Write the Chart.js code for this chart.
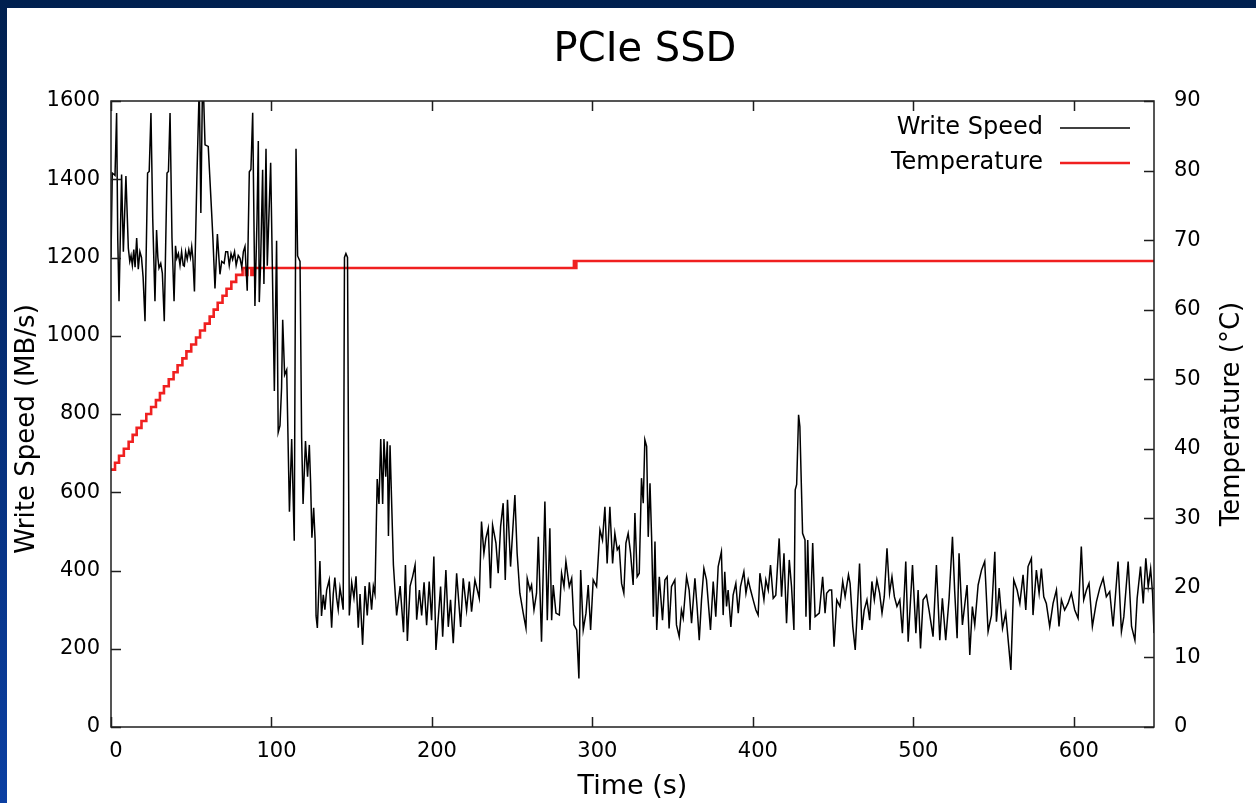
<!DOCTYPE html>
<html><head><meta charset="utf-8">
<script src="https://cdn.jsdelivr.net/npm/chart.js@4/dist/chart.umd.min.js"></script>
<style>
html,body{margin:0;padding:0;width:1256px;height:803px;overflow:hidden;background:linear-gradient(to bottom,#00204f 0%,#062f78 50%,#0b3fa2 100%);}
#wrap{position:absolute;left:7px;top:8px;width:1249px;height:795px;background:#fff;}
</style></head><body><div id="wrap"><canvas id="c" width="1249" height="795"></canvas></div>
<script>
const chartTitle = 'PCIe SSD';
const seconds = [
0,0.8,2.5,3.5,4.2,5.0,6.6,7.7,9.3,10.8,11.7,12.5,13.3,14.2,15.0,16.0,17.0,18.0,19.0,20.0,
21.2,22.8,23.8,24.9,26.0,27.4,28.4,29.2,29.9,31.0,32.0,33.2,34.9,35.8,36.8,38.0,39.3,40.2,41.0,42.0,
43.0,44.0,45.0,45.7,46.5,47.5,48.5,49.5,50.3,51.0,52.0,53.5,55.0,56.0,57.0,57.8,58.6,60.6,62.7,63.5,
64.8,66.3,67.9,69.0,70.5,71.5,72.7,73.7,74.8,75.8,77.0,78.0,79.3,80.4,81.5,82.5,83.5,84.9,86.2,87.2,
88.3,89.7,91.0,91.8,92.4,93.2,94.5,95.3,96.6,97.4,99.5,101.8,103.2,104.2,105.3,106.3,107.0,108.2,109.5,111.2,
112.6,114.2,115.3,116.3,117.8,118.8,119.7,121.2,122.5,123.6,124.4,125.2,126.3,127.2,127.8,128.6,130.2,131.2,132.3,133.3,
134.4,136.0,137.5,138.5,139.5,140.6,141.6,142.7,143.7,144.7,145.5,146.4,147.4,148.5,150.0,151.4,152.7,154.1,155.2,156.8,
158.3,159.7,161.0,162.4,163.5,164.5,165.9,167.0,168.1,169.3,170.1,171.2,172.2,172.9,173.9,176.0,178.0,180.2,182.3,183.5,
184.7,186.4,188.0,189.5,190.5,192.2,193.6,195.1,196.7,198.3,199.8,201.2,202.5,205.4,206.7,208.7,210.2,211.6,213.3,215.4,
217.9,219.5,221.6,223.3,224.7,226.8,229.5,230.9,232.4,233.6,235.1,236.5,237.8,239.9,241.3,242.8,244.4,245.7,247.1,249.0,
251.7,253.1,254.8,256.9,258.6,259.4,261.1,262.1,263.6,265.2,266.3,268.3,270.4,271.9,273.5,274.6,275.6,277.3,279.4,280.8,
282.3,283.5,285.6,287.1,288.5,290.2,291.6,292.7,294.3,296.0,297.4,298.9,300.5,302.6,304.7,306.3,307.8,309.2,310.9,312.6,
314.0,315.5,316.7,318.2,319.6,320.9,322.3,323.8,325.4,326.5,327.9,329.2,330.6,331.7,332.7,333.8,334.8,335.9,336.9,338.0,
339.0,340.1,341.7,343.7,345.2,346.6,347.8,349.3,351.4,352.4,354.1,355.5,356.6,358.7,360.3,361.8,363.9,365.3,366.6,368.0,
369.5,371.1,373.6,375.3,376.9,378.4,380.4,381.5,382.5,383.6,384.6,386.3,387.7,389.4,390.9,392.3,394.4,395.7,397.1,398.6,
400.2,401.9,403.3,404.4,405.4,406.9,408.1,409.6,411.0,412.7,414.3,416.4,417.9,419.4,421.0,422.7,424.1,425.6,426.4,427.3,
428.5,429.3,431.0,432.5,433.1,434.2,435.6,437.3,438.8,441.4,443.5,445.0,446.0,447.7,449.1,450.6,452.3,454.3,456.0,457.5,
459.6,460.6,462.3,463.8,465.2,466.5,468.0,469.4,471.1,472.8,474.2,475.7,477.3,479.0,480.5,481.9,483.6,485.2,486.7,488.2,
489.8,491.6,493.2,495.3,496.8,499.5,501.6,503.0,504.5,506.1,508.2,509.8,512.3,514.4,516.5,518.1,520.2,522.3,524.4,525.8,
527.3,528.5,530.6,533.5,535.2,536.8,538.3,540.4,542.5,544.5,546.6,548.7,550.8,551.8,553.5,555.6,557.6,560.8,562.6,564.7,
566.4,568.4,570.1,571.5,573.6,574.6,576.7,578.4,579.8,581.3,582.9,585.0,587.1,589.2,590.8,592.3,594.3,596.4,598.5,600.6,
602.7,604.7,606.2,607.9,609.5,611.6,614.1,616.2,618.3,620.3,622.4,624.5,627.6,629.7,631.2,633.9,636.0,638.1,639.5,641.6,
643.3,644.9,646.4,647.9,649.1,650.0
];
const writeSpeed = [
1200,1416,1410,1569,1250,1088,1412,1215,1408,1224,1190,1205,1180,1220,1175,1250,1170,1215,1200,1150,
1037,1416,1420,1569,1300,1088,1270,1200,1173,1185,1160,1037,1416,1420,1569,1250,1088,1230,1198,1210,
1180,1215,1180,1178,1215,1195,1220,1200,1228,1200,1113,1400,1640,1314,1640,1600,1488,1484,1316,1250,
1121,1260,1157,1190,1185,1215,1215,1180,1210,1195,1215,1180,1205,1198,1175,1215,1228,1115,1419,1425,
1570,1076,1300,1498,1086,1179,1424,1132,1478,1179,1442,859,1243,753,770,867,1041,900,913,550,
736,476,1478,1204,1190,740,570,731,640,721,624,484,560,478,284,253,424,284,338,300,
350,376,254,340,382,330,300,356,330,300,1200,1210,1200,285,369,330,385,254,340,210,
360,285,370,300,360,340,634,570,736,570,736,640,730,488,720,414,285,360,242,414,
220,360,385,414,274,350,285,370,260,372,273,436,197,359,231,401,256,325,214,393,
256,380,299,372,295,376,329,525,444,482,508,355,516,470,393,512,572,376,581,410,
593,444,342,291,253,380,350,363,299,342,486,218,576,273,508,273,363,291,286,393,
359,423,359,380,261,248,124,401,248,291,363,248,376,359,504,478,563,418,563,418,
495,453,461,367,342,470,495,444,363,547,384,393,636,572,734,717,486,623,486,282,
474,248,384,273,376,384,252,359,376,261,231,299,278,384,350,265,380,304,222,325,
405,376,248,372,282,410,448,286,397,308,350,256,337,367,291,359,397,342,376,350,
325,299,286,393,367,325,376,350,414,329,337,482,333,444,265,427,359,248,606,620,
798,768,495,478,282,478,248,470,282,291,384,291,342,350,350,205,325,308,372,333,
389,367,256,197,308,418,248,299,325,273,372,325,376,342,291,333,457,342,384,333,
308,325,240,423,218,414,240,350,201,325,337,299,231,414,222,329,222,329,486,346,
227,444,261,363,184,308,261,363,401,423,244,286,448,269,355,252,291,146,376,350,
316,389,299,410,431,286,401,342,405,333,316,257,316,350,257,325,299,316,342,299,
278,461,325,350,367,257,320,355,380,333,346,257,423,244,282,423,257,222,329,410,
316,431,359,405,342,240
];
const tempSeconds = [0,2.5,5,8,11,13.5,16,19,22,25,28,30.5,33,36,39,41.5,44.5,47,50,53,55.5,58.5,61.5,64,66.5,69.5,72,75,78,82,84,85,87.5,88.5,288.5,289.3,290,650];
const temperature = [37,38,39,40,41,42,43,44,45,46,47,48,49,50,51,52,53,54,55,56,57,58,59,60,61,62,63,64,65,66,65,66,65,66,67,66,67,67];
const seriesNames = ['Write Speed', 'Temperature'];
const xTitle = 'Time (s)', yTitle = 'Write Speed (MB/s)', y2Title = 'Temperature (°C)';

const FONT = 'DejaVu Sans';
Chart.defaults.font.family = FONT;
Chart.defaults.color = '#000';

const decor = {
  id: 'decor',
  afterDatasetsDraw(chart) {
    const {ctx, chartArea: a, scales} = chart;
    ctx.save();
    ctx.strokeStyle = '#1e1e1e';
    ctx.lineWidth = 1.5;
    ctx.strokeRect(a.left, a.top, a.right - a.left, a.bottom - a.top);
    const L = 10;
    ctx.beginPath();
    scales.x.ticks.forEach(t => {
      const p = Math.round(scales.x.getPixelForValue(t.value)) + 0.5;
      ctx.moveTo(p, a.bottom); ctx.lineTo(p, a.bottom - L);
      ctx.moveTo(p, a.top); ctx.lineTo(p, a.top + L);
    });
    scales.y.ticks.forEach(t => {
      const p = Math.round(scales.y.getPixelForValue(t.value)) + 0.5;
      ctx.moveTo(a.left, p); ctx.lineTo(a.left + L, p);
    });
    scales.y2.ticks.forEach(t => {
      const p = Math.round(scales.y2.getPixelForValue(t.value)) + 0.5;
      ctx.moveTo(a.right, p); ctx.lineTo(a.right - L, p);
    });
    ctx.stroke();
    // chart title
    ctx.fillStyle = '#000';
    ctx.textAlign = 'center';
    ctx.textBaseline = 'middle';
    ctx.font = '40px ' + FONT;
    ctx.fillText(chartTitle, 638, 43);
    // legend
    ctx.font = '24px ' + FONT;
    ctx.textAlign = 'right';
    const ly = [a.top + 27, a.top + 62];
    const ds = chart.data.datasets;
    ds.forEach((d, i) => {
      ctx.fillText(d.label, a.right - 111, ly[i]);
      ctx.beginPath();
      ctx.strokeStyle = d.borderColor;
      ctx.lineWidth = d.borderWidth;
      ctx.moveTo(a.right - 94, ly[i]); ctx.lineTo(a.right - 24, ly[i]);
      ctx.stroke();
    });
    ctx.font = '26px ' + FONT;
    ctx.textAlign = 'center';
    // left axis title
    ctx.save();
    ctx.translate(20, (a.top + a.bottom) / 2 + 15);
    ctx.rotate(-Math.PI / 2);
    ctx.fillText(yTitle, 0, 0);
    ctx.restore();
    // right axis title (reads bottom to top)
    ctx.translate(1225, (a.top + a.bottom) / 2);
    ctx.rotate(-Math.PI / 2);
    ctx.fillText(y2Title, 0, 0);
    ctx.restore();
  }
};

const plain = v => String(v);

new Chart(document.getElementById('c'), {
  type: 'line',
  data: {
    datasets: [
      {
        label: seriesNames[0],
        data: seconds.map((s, i) => ({x: s, y: writeSpeed[i]})),
        borderColor: '#000000',
        borderWidth: 1.5,
        pointRadius: 0,
        yAxisID: 'y',
        tension: 0
      },
      {
        label: seriesNames[1],
        data: tempSeconds.map((s, i) => ({x: s, y: temperature[i]})),
        borderColor: '#f02020',
        borderWidth: 2.6,
        pointRadius: 0,
        stepped: true,
        yAxisID: 'y2'
      }
    ]
  },
  options: {
    responsive: false,
    animation: false,
    layout: {padding: {top: 93}},
    plugins: {
      legend: {display: false},
      tooltip: {enabled: false},
      title: {display: false}
    },
    scales: {
      x: {
        type: 'linear', min: 0, max: 650,
        grid: {display: false, drawTicks: false},
        border: {display: false},
        ticks: {stepSize: 100, includeBounds: false, padding: 12, labelOffset: 5, font: {size: 21}, maxRotation: 0, color: '#000', callback: plain},
        title: {display: true, text: xTitle, font: {size: 27}, padding: {top: 0, bottom: 0}, color: '#000'},
        afterFit: s => { s.height = 76; }
      },
      y: {
        position: 'left', min: 0, max: 1600,
        grid: {display: false, drawTicks: false},
        border: {display: false},
        ticks: {stepSize: 200, padding: 11, font: {size: 21}, color: '#000', callback: plain},
        title: {display: false},
        afterFit: s => { s.width = 104; }
      },
      y2: {
        position: 'right', min: 0, max: 90,
        grid: {display: false, drawTicks: false},
        border: {display: false},
        ticks: {stepSize: 10, padding: 20, font: {size: 21}, color: '#000', callback: plain},
        title: {display: false},
        afterFit: s => { s.width = 102; }
      }
    }
  },
  plugins: [decor]
});
</script></body></html>
